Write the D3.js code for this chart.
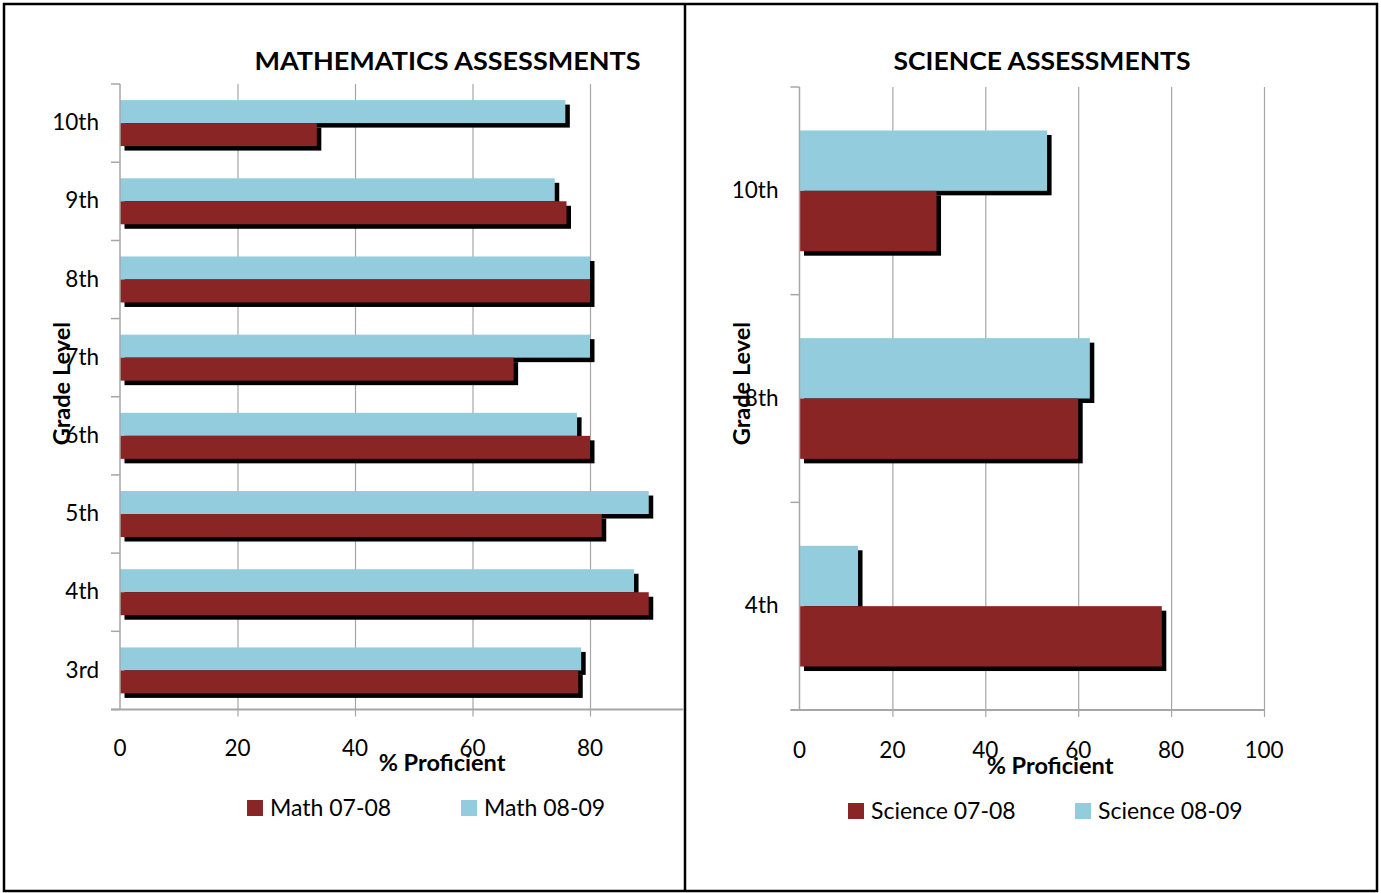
<!DOCTYPE html>
<html><head><meta charset="utf-8">
<script src="https://cdn.jsdelivr.net/npm/d3@7"></script>
<style>
body{margin:0;background:#fff;}
svg{display:block;font-family:Lato, "Open Sans", sans-serif;}
</style></head>
<body>
<svg id="c" width="1381" height="893"></svg>
<script>
// ---------- DATA ----------
const mathGrades = ["3rd","4th","5th","6th","7th","8th","9th","10th"];
const math0708 = [78, 90, 82, 80, 67, 80, 76, 33.5];
const math0809 = [78.5, 87.5, 90, 77.8, 80, 80, 74, 75.8];
const sciGrades = ["4th","8th","10th"];
const sci0708 = [78, 60, 29.5];
const sci0809 = [12.6, 62.5, 53.3];
const xTicks = [0, 20, 40, 60, 80, 100];
const seriesNamesMath = ["Math 07-08", "Math 08-09"];
const seriesNamesSci = ["Science 07-08", "Science 08-09"];

const RED = "#8A2525", BLUE = "#93CDDD", GRID = "#A6A6A6";
const svg = d3.select("#c");

// frame
svg.append("rect").attr("x",4).attr("y",4).attr("width",1373).attr("height",887)
  .attr("fill","none").attr("stroke","#000").attr("stroke-width",2.5);
svg.append("line").attr("x1",685).attr("x2",685).attr("y1",4).attr("y2",891)
  .attr("stroke","#000").attr("stroke-width",2.5);

svg.append("defs").append("clipPath").attr("id","clipL")
  .append("rect").attr("x",5).attr("y",5).attr("width",678.5).attr("height",885);

function drawChart(o){
  const g = svg.append("g").attr("clip-path", o.clip ? "url(#"+o.clip+")" : null);
  const x = d3.scaleLinear().domain([0,100]).range([o.x0, o.x100]);
  const y = d3.scaleBand().domain(o.cats).range([o.yBot, o.yTop]);
  const inner = d3.scaleBand().domain(["s2","s1"]).range([0, y.bandwidth()])
    .paddingInner(0).paddingOuter(o.pad);

  // gridlines + x ticks
  const xa = d3.axisBottom(x).tickValues(xTicks).tickSize(o.yBot - o.yTop + 7).tickFormat("");
  const gx = g.append("g").attr("transform","translate(0,"+o.yTop+")").call(xa);
  gx.select(".domain").remove();
  gx.selectAll(".tick line").attr("stroke",GRID).attr("stroke-width",1.2);
  gx.selectAll(".tick").filter(d=>d===0).remove();
  // x tick labels
  g.append("g").selectAll("text").data(xTicks.filter(t=>x(t) < o.xClip)).join("text")
    .attr("x", d=>x(d)).attr("y", o.tickLabelY).attr("text-anchor","middle")
    .attr("font-size",22.5).attr("fill","#000").text(d=>d);

  const rows = o.cats.map((c,i)=>({c, v1:o.s1[i], v2:o.s2[i]}));
  const sh = 4.5;
  // shadows
  rows.forEach(r=>{
    [["s2",r.v2],["s1",r.v1]].forEach(([k,v])=>{
      g.append("rect").attr("x", x(0)+sh).attr("y", y(r.c)+inner(k)+sh)
        .attr("width", x(v)-x(0)).attr("height", inner.bandwidth()).attr("fill","#000");
    });
  });
  // bars
  rows.forEach(r=>{
    g.append("rect").attr("x", x(0)).attr("y", y(r.c)+inner("s2"))
      .attr("width", x(r.v2)-x(0)).attr("height", inner.bandwidth()).attr("fill",BLUE);
    g.append("rect").attr("x", x(0)).attr("y", y(r.c)+inner("s1"))
      .attr("width", x(r.v1)-x(0)).attr("height", inner.bandwidth()).attr("fill",RED);
  });

  // y axis line
  g.append("line").attr("x1",x(0)).attr("x2",x(0)).attr("y1",o.yTop).attr("y2",o.yBot)
    .attr("stroke",GRID).attr("stroke-width",1.5);
  // y boundary ticks
  const bounds = o.cats.map(c=>y(c)).concat([y(o.cats[0])+y.bandwidth()]);
  g.selectAll(".ytk").data(bounds).join("line")
    .attr("x1",x(0)-9).attr("x2",x(0)).attr("y1",d=>d).attr("y2",d=>d)
    .attr("stroke",GRID).attr("stroke-width",1.5);
  // x axis line
  g.append("line").attr("x1",x(0)-9).attr("x2",Math.min(x(100),o.xClip)).attr("y1",o.yBot).attr("y2",o.yBot)
    .attr("stroke",GRID).attr("stroke-width",2.2);

  // y labels
  const ya = d3.axisLeft(y).tickSize(0).tickPadding(0);
  const gy = svg.append("g").attr("transform","translate("+(x(0)-21)+",0)").call(ya);
  gy.select(".domain").remove();
  gy.selectAll("text").attr("font-size",22.5).attr("font-family","Lato").attr("fill","#000");

  // titles
  svg.append("text").attr("x",o.titleX).attr("y",o.titleY).attr("text-anchor","middle")
    .attr("font-size",25).attr("font-weight","bold").attr("textLength",o.titleW)
    .attr("lengthAdjust","spacingAndGlyphs").text(o.title);
  svg.append("text").attr("x",o.xtX).attr("y",o.xtY).attr("text-anchor","middle")
    .attr("font-size",23.5).attr("font-weight","bold").text("% Proficient");
  svg.append("text").attr("transform","translate("+o.ytX+","+o.ytY+") rotate(-90)")
    .attr("text-anchor","middle").attr("font-size",23.5).attr("font-weight","bold").text("Grade Level");

  // legend
  const lg = svg.append("g");
  o.legend.forEach((L,i)=>{
    lg.append("rect").attr("x",L.x).attr("y",o.legY-8).attr("width",16).attr("height",16)
      .attr("fill", i===0?RED:BLUE);
    lg.append("text").attr("x",L.x+23).attr("y",o.legY+8).attr("font-size",23).text(o.names[i]);
  });
}

drawChart({clip:"clipL", cats:mathGrades, s1:math0708, s2:math0809,
  x0:120, x100:707.5, xClip:684, yTop:84, yBot:709.5, pad:0.7, tickLabelY:756,
  title:"MATHEMATICS ASSESSMENTS", titleX:447.5, titleY:70, titleW:386,
  xtX:442, xtY:771, ytX:70, ytY:383.5,
  legY:808, legend:[{x:247},{x:461}], names:seriesNamesMath});

drawChart({clip:null, cats:sciGrades, s1:sci0708, s2:sci0809,
  x0:799.5, x100:1264, xClip:2000, yTop:87, yBot:710, pad:0.72, tickLabelY:758,
  title:"SCIENCE ASSESSMENTS", titleX:1042, titleY:70, titleW:297,
  xtX:1050, xtY:774, ytX:750, ytY:383.5,
  legY:811, legend:[{x:848},{x:1075}], names:seriesNamesSci});
</script>
</body></html>
